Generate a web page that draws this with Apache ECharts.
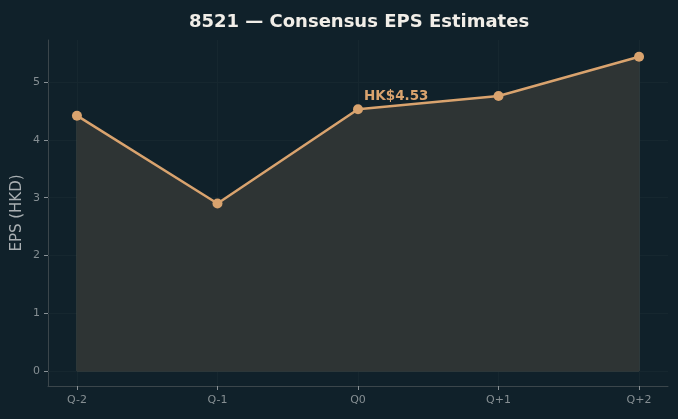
<!DOCTYPE html>
<html>
<head>
<meta charset="utf-8">
<script src="https://cdn.jsdelivr.net/npm/echarts@6/dist/echarts.min.js"></script>
<style>
  html, body { margin: 0; padding: 0; background: #10212a; }
  #chart { width: 678px; height: 419px; }
</style>
</head>
<body>
<div id="chart"></div>
<script>
const quarters = ['Q-2', 'Q-1', 'Q0', 'Q+1', 'Q+2'];
const epsValues = [4.42, 2.9, 4.53, 4.76, 5.44];
const yTicks = [0, 1, 2, 3, 4, 5];
const labelIndex = 2;

const chart = echarts.init(document.getElementById('chart'));

const lineColor = '#d9a36e';
const axisColor = '#3b464b';
const gridColor = '#16272f';
const tickText = '#868f93';
const xIdx = quarters.map((q, i) => i);

const points = epsValues.map((v, i) => {
  const item = { value: [i, v] };
  if (i === labelIndex) {
    item.label = {
      show: true,
      formatter: 'HK$' + v.toFixed(2),
      position: [11, -15],
      color: lineColor,
      fontWeight: 'bold',
      fontSize: 13.5,
      fontFamily: 'DejaVu Sans'
    };
  }
  return item;
});

chart.setOption({
  backgroundColor: '#10212a',
  animation: false,
  title: {
    text: '8521 — Consensus EPS Estimates',
    left: 354,
    textAlign: 'center',
    top: 8,
    textStyle: {
      color: '#f1eee8',
      fontSize: 18,
      fontWeight: 'bold',
      fontFamily: 'DejaVu Sans'
    }
  },
  grid: { left: 48, right: 10, top: 40, bottom: 33, outerBoundsMode: 'none' },
  xAxis: {
    type: 'value',
    min: -0.206,
    max: 4.206,
    axisLine: { show: true, onZero: false, lineStyle: { color: axisColor } },
    axisTick: { show: true, customValues: xIdx, length: 4, lineStyle: { color: '#8a9296', width: 1 } },
    axisLabel: {
      customValues: xIdx,
      formatter: (v) => quarters[Math.round(v)],
      color: tickText,
      fontSize: 11,
      fontFamily: 'DejaVu Sans',
      margin: 9
    },
    splitLine: { show: false }
  },
  yAxis: {
    type: 'value',
    min: -0.26,
    max: 5.73,
    name: 'EPS (HKD)',
    nameLocation: 'middle',
    nameGap: 23,
    nameMoveOverlap: false,
    nameTextStyle: { color: '#a9afb2', fontSize: 15, fontFamily: 'DejaVu Sans' },
    axisLine: { show: true, onZero: false, lineStyle: { color: axisColor } },
    axisTick: { show: true, customValues: yTicks, length: 4, lineStyle: { color: '#8a9296', width: 1 } },
    axisLabel: {
      customValues: yTicks,
      color: tickText,
      fontSize: 11,
      fontFamily: 'DejaVu Sans',
      margin: 8
    },
    splitLine: { show: false }
  },
  series: [
    {
      type: 'line',
      silent: true,
      symbol: 'none',
      data: [],
      z: 1,
      markLine: {
        silent: true,
        z: 1,
        symbol: ['none', 'none'],
        label: { show: false },
        lineStyle: { color: gridColor, width: 1, type: 'solid' },
        data: xIdx.map((i) => ({ xAxis: i })).concat(yTicks.map((t) => ({ yAxis: t })))
      }
    },
    {
      type: 'line',
      data: points,
      symbol: 'circle',
      symbolSize: 10,
      itemStyle: { color: lineColor },
      lineStyle: { color: lineColor, width: 2.5 },
      areaStyle: { color: '#2e3434', opacity: 1, origin: 0 },
      z: 3
    },
    {
      type: 'line',
      silent: true,
      symbol: 'none',
      data: [[0, epsValues[0]], [0, 0], [4, 0], [4, epsValues[4]]],
      lineStyle: { color: '#464b47', width: 1 },
      z: 2
    }
  ]
});
</script>
</body>
</html>
